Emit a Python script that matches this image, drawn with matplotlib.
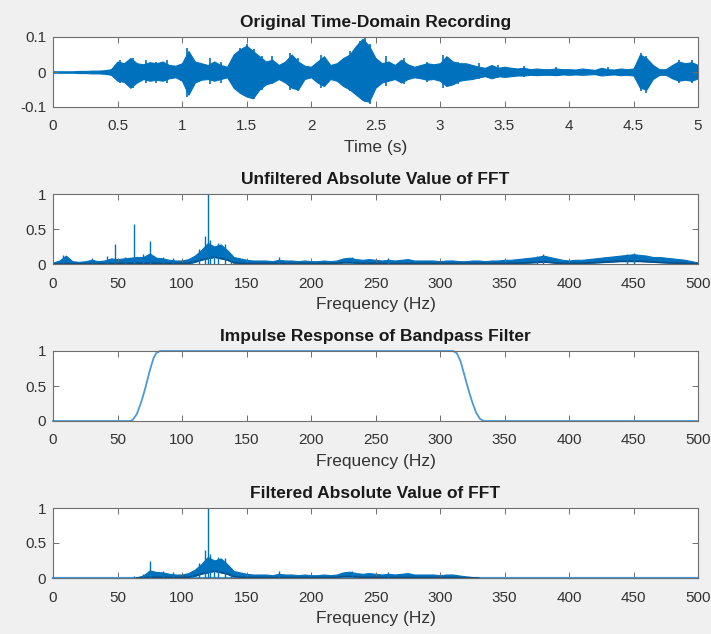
import numpy as np
import matplotlib
matplotlib.use("Agg")
import matplotlib.pyplot as plt

# ---------------- data ----------------
# Time-domain recording: envelope (upper / lower magnitude) every 0.05 s
t_env = np.round(np.arange(0, 5.0001, 0.05), 2)
rec_upper = [0.002, 0.002, 0.002, 0.002, 0.003, 0.003, 0.004, 0.004, 0.005, 0.008,
             0.030, 0.025, 0.040, 0.025, 0.022, 0.028, 0.025, 0.030, 0.020, 0.018,
             0.025, 0.060, 0.030, 0.025, 0.020, 0.030, 0.020, 0.015, 0.050, 0.065,
             0.075, 0.060, 0.045, 0.030, 0.035, 0.020, 0.030, 0.050, 0.030, 0.018,
             0.015, 0.030, 0.045, 0.020, 0.025, 0.040, 0.050, 0.075, 0.095, 0.075,
             0.040, 0.025, 0.030, 0.020, 0.035, 0.022, 0.015, 0.020, 0.025, 0.022,
             0.025, 0.045, 0.030, 0.025, 0.025, 0.020, 0.015, 0.012, 0.020, 0.012,
             0.015, 0.012, 0.010, 0.012, 0.008, 0.010, 0.008, 0.008, 0.010, 0.008,
             0.008, 0.007, 0.010, 0.008, 0.006, 0.012, 0.008, 0.007, 0.010, 0.008,
             0.010, 0.050, 0.040, 0.020, 0.008, 0.008, 0.020, 0.030, 0.025, 0.028,
             0.020]
rec_lower = [0.002, 0.002, 0.002, 0.002, 0.003, 0.003, 0.004, 0.004, 0.005, 0.008,
             0.025, 0.028, 0.045, 0.030, 0.020, 0.025, 0.022, 0.025, 0.018, 0.015,
             0.025, 0.065, 0.030, 0.022, 0.020, 0.025, 0.020, 0.015, 0.045, 0.060,
             0.070, 0.075, 0.050, 0.035, 0.030, 0.020, 0.030, 0.045, 0.050, 0.020,
             0.015, 0.030, 0.040, 0.020, 0.025, 0.040, 0.050, 0.065, 0.080, 0.085,
             0.045, 0.030, 0.025, 0.020, 0.030, 0.020, 0.015, 0.018, 0.022, 0.020,
             0.025, 0.040, 0.035, 0.025, 0.022, 0.020, 0.015, 0.012, 0.018, 0.012,
             0.014, 0.012, 0.010, 0.010, 0.008, 0.009, 0.008, 0.008, 0.009, 0.007,
             0.008, 0.007, 0.008, 0.007, 0.006, 0.010, 0.008, 0.007, 0.009, 0.008,
             0.010, 0.045, 0.050, 0.020, 0.008, 0.008, 0.018, 0.025, 0.022, 0.025,
             0.018]
# Visible individual peaks of the recording (time s, positive peak, negative peak)
rec_spike_t = [0.52, 0.62, 0.72, 0.80, 0.88, 1.04, 1.22, 1.30, 1.45, 1.50, 1.56, 1.62,
               1.70, 1.84, 1.90, 2.08, 2.30, 2.38, 2.42, 2.46, 2.58, 2.72, 2.90, 3.02,
               3.14, 3.30, 3.45, 3.65, 3.90, 4.30, 4.56, 4.60, 4.85, 4.95]
rec_spike_up = [0.035, 0.040, 0.035, 0.030, 0.035, 0.070, 0.040, 0.030, 0.070, 0.080,
                0.065, 0.045, 0.045, 0.055, 0.040, 0.050, 0.060, 0.090, 0.100, 0.080,
                0.045, 0.040, 0.030, 0.050, 0.030, 0.025, 0.020, 0.018, 0.015, 0.015,
                0.055, 0.045, 0.035, 0.035]
rec_spike_dn = [0.030, 0.045, 0.030, 0.030, 0.030, 0.070, 0.035, 0.030, 0.060, 0.070,
                0.078, 0.050, 0.035, 0.050, 0.055, 0.045, 0.055, 0.075, 0.085, 0.090,
                0.040, 0.035, 0.028, 0.045, 0.035, 0.020, 0.018, 0.015, 0.012, 0.012,
                0.055, 0.060, 0.030, 0.030]

# Unfiltered |FFT|: band envelope every 5 Hz
f_env = np.arange(0, 501, 5)
fft_upper = [0.02, 0.05, 0.12, 0.04, 0.03, 0.04, 0.06, 0.04, 0.05, 0.08,
             0.07, 0.08, 0.09, 0.10, 0.10, 0.15, 0.09, 0.08, 0.06, 0.05,
             0.05, 0.07, 0.12, 0.20, 0.30, 0.25, 0.28, 0.20, 0.10, 0.08,
             0.06, 0.05, 0.05, 0.05, 0.04, 0.06, 0.05, 0.05, 0.04, 0.05,
             0.04, 0.04, 0.05, 0.04, 0.05, 0.08, 0.09, 0.07, 0.06, 0.07,
             0.06, 0.05, 0.06, 0.05, 0.06, 0.07, 0.05, 0.05, 0.05, 0.05,
             0.04, 0.05, 0.05, 0.04, 0.04, 0.05, 0.05, 0.04, 0.05, 0.05,
             0.06, 0.06, 0.07, 0.08, 0.09, 0.10, 0.12, 0.10, 0.08, 0.06,
             0.05, 0.06, 0.06, 0.07, 0.08, 0.09, 0.10, 0.11, 0.12, 0.13,
             0.14, 0.13, 0.12, 0.10, 0.10, 0.09, 0.08, 0.07, 0.06, 0.04,
             0.02]
fft_lower = [0.003, 0.005, 0.008, 0.005, 0.005, 0.005, 0.008, 0.005, 0.006, 0.008,
             0.008, 0.010, 0.010, 0.012, 0.012, 0.015, 0.012, 0.010, 0.008, 0.008,
             0.008, 0.010, 0.030, 0.060, 0.080, 0.100, 0.080, 0.060, 0.020, 0.010,
             0.008, 0.008, 0.008, 0.008, 0.007, 0.008, 0.008, 0.008, 0.007, 0.008,
             0.007, 0.007, 0.008, 0.007, 0.010, 0.020, 0.020, 0.015, 0.010, 0.010,
             0.010, 0.008, 0.008, 0.008, 0.008, 0.008, 0.008, 0.008, 0.008, 0.008,
             0.007, 0.008, 0.008, 0.007, 0.007, 0.008, 0.008, 0.007, 0.008, 0.008,
             0.010, 0.010, 0.012, 0.015, 0.020, 0.025, 0.030, 0.025, 0.015, 0.010,
             0.010, 0.010, 0.012, 0.015, 0.020, 0.025, 0.030, 0.035, 0.040, 0.040,
             0.040, 0.040, 0.035, 0.030, 0.025, 0.020, 0.015, 0.012, 0.010, 0.008,
             0.005]
# Isolated spikes in |FFT| (frequency Hz, height)
spike_freq = [8, 30, 42, 48, 56, 63, 70, 75, 85, 93, 108, 113, 118, 120, 122, 125, 128,
              133, 138, 175, 232, 260, 375, 380, 445, 450]
spike_amp = [0.13, 0.08, 0.12, 0.28, 0.10, 0.57, 0.14, 0.33, 0.10, 0.08, 0.10, 0.22,
             0.40, 1.00, 0.35, 0.22, 0.30, 0.28, 0.15, 0.10, 0.10, 0.08, 0.12, 0.14,
             0.14, 0.16]

# Bandpass filter response
filt_freq = [0, 60, 62, 65, 68, 70, 72, 75, 78, 80, 83, 310, 313, 316, 319, 322, 325, 328, 331, 334, 500]
filt_gain = [0, 0, 0.02, 0.10, 0.25, 0.37, 0.50, 0.72, 0.90, 0.97, 1.0, 1.0, 0.97, 0.85,
             0.65, 0.45, 0.27, 0.12, 0.03, 0.0, 0.0]

freq_ticks = [0, 50, 100, 150, 200, 250, 300, 350, 400, 450, 500]
time_ticks = [0, 0.5, 1, 1.5, 2, 2.5, 3, 3.5, 4, 4.5, 5]
time_labels = ["0", "0.5", "1", "1.5", "2", "2.5", "3", "3.5", "4", "4.5", "5"]

# ---------------- style ----------------
BLUE = "#0072BD"
DARK = "#0b4f86"
LIGHT = "#4a9ad8"
plt.rcParams["font.family"] = ["Liberation Sans", "DejaVu Sans"]
TXT = "#333333"
FRAME = "#6e6e6e"

W, H = 711, 634
fig = plt.figure(figsize=(W / 100, H / 100), dpi=100, facecolor="#f0f0f0")

left, width = 53 / W, 645 / W
tops = [37, 194, 351, 508]
ah = 70


def make_ax(top):
    ax = fig.add_axes([left, 1 - (top + ah) / H, width, ah / H])
    ax.set_facecolor("white")
    for s in ax.spines.values():
        s.set_color(FRAME)
        s.set_linewidth(0.8)
    ax.tick_params(direction="in", length=4, width=0.7, colors=FRAME,
                   labelcolor=TXT, labelsize=11, top=True, right=True)
    ax.tick_params(axis="x", pad=9)
    ax.tick_params(axis="y", pad=5)
    return ax


def style_labels(ax, title, xlabel):
    ax.set_title(title, fontsize=12.5, fontweight="bold", color="#1a1a1a", pad=7)
    ax.set_xlabel(xlabel, fontsize=12.5, color=TXT, labelpad=5)


# 1) time-domain recording
ax1 = make_ax(tops[0])
ax1.fill_between(t_env, np.array(rec_upper), -np.array(rec_lower), color=BLUE,
                 linewidth=0.8, edgecolor=BLUE)
ax1.vlines(rec_spike_t, -np.array(rec_spike_dn), rec_spike_up, color=BLUE, linewidth=1.2)
ax1.set_xlim(0, 5)
ax1.set_ylim(-0.1, 0.1)
ax1.set_xticks(time_ticks)
ax1.set_xticklabels(time_labels)
ax1.set_yticks([-0.1, 0, 0.1])
ax1.set_yticklabels(["-0.1", "0", "0.1"])
style_labels(ax1, "Original Time-Domain Recording", "Time (s)")

# 2) unfiltered FFT
ax2 = make_ax(tops[1])
ax2.fill_between(f_env, fft_lower, fft_upper, color=BLUE, linewidth=0.8, edgecolor=BLUE)
ax2.plot(f_env, fft_lower, color=DARK, linewidth=1.2)
ax2.vlines(spike_freq, 0, spike_amp, color=BLUE, linewidth=1.0)
ax2.set_xlim(0, 500)
ax2.set_ylim(0, 1)
ax2.set_xticks(freq_ticks)
ax2.set_yticks([0, 0.5, 1])
ax2.set_yticklabels(["0", "0.5", "1"])
style_labels(ax2, "Unfiltered Absolute Value of FFT", "Frequency (Hz)")

# 3) filter response
ax3 = make_ax(tops[2])
ax3.plot(filt_freq, filt_gain, color=LIGHT, linewidth=1.3, clip_on=False)
ax3.set_xlim(0, 500)
ax3.set_ylim(0, 1)
ax3.set_xticks(freq_ticks)
ax3.set_yticks([0, 0.5, 1])
ax3.set_yticklabels(["0", "0.5", "1"])
style_labels(ax3, "Impulse Response of Bandpass Filter", "Frequency (Hz)")

# 4) filtered FFT = unfiltered |FFT| times filter gain
gain_env = np.interp(f_env, filt_freq, filt_gain)
gain_sp = np.interp(spike_freq, filt_freq, filt_gain)
low_f = np.array(fft_lower) * gain_env
low_f_line = np.where(gain_env > 0.02, low_f, np.nan)
ax4 = make_ax(tops[3])
ax4.plot([0, 500], [0, 0], color=LIGHT, linewidth=1.6, clip_on=False)
ax4.fill_between(f_env, low_f, np.array(fft_upper) * gain_env,
                 where=gain_env > 0, color=BLUE, linewidth=0.8, edgecolor=BLUE)
ax4.plot(f_env, low_f_line, color=DARK, linewidth=1.2)
ax4.vlines(spike_freq, 0, np.array(spike_amp) * gain_sp, color=BLUE, linewidth=1.0)
ax4.set_xlim(0, 500)
ax4.set_ylim(0, 1)
ax4.set_xticks(freq_ticks)
ax4.set_yticks([0, 0.5, 1])
ax4.set_yticklabels(["0", "0.5", "1"])
style_labels(ax4, "Filtered Absolute Value of FFT", "Frequency (Hz)")

fig.savefig("out.png", dpi=100, facecolor=fig.get_facecolor())
